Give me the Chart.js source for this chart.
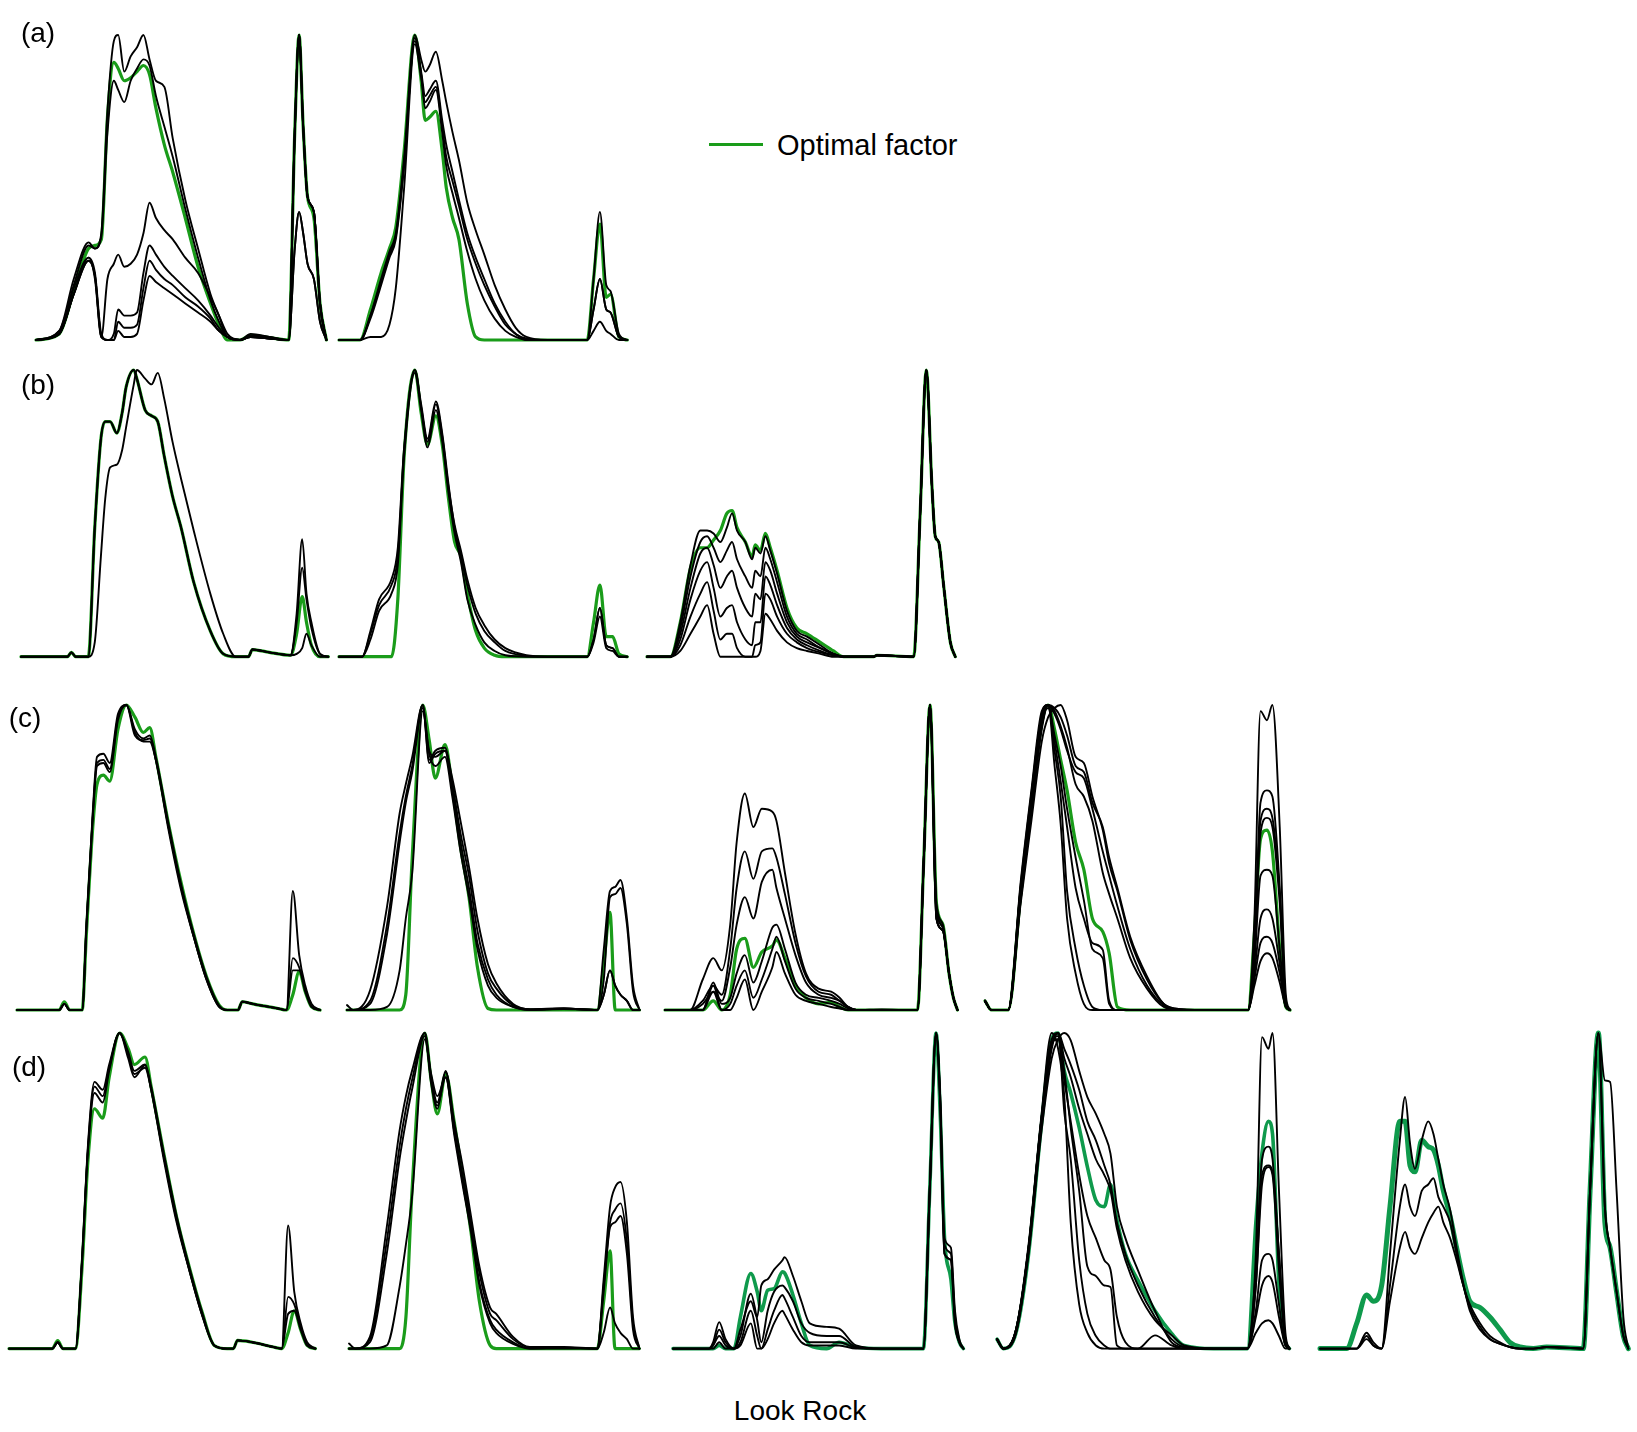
<!DOCTYPE html>
<html>
<head>
<meta charset="utf-8">
<script src="https://cdn.jsdelivr.net/npm/chart.js@4.4.1/dist/chart.umd.min.js"></script>
<style>
  html,body{margin:0;padding:0;background:#fff;}
  body{width:1637px;height:1432px;position:relative;overflow:hidden;font-family:"Liberation Sans",Arial,Helvetica,sans-serif;}
  canvas{position:absolute;}
  .lbl{position:absolute;transform:translate(-50%,-50%);font-size:28px;color:#000;white-space:nowrap;line-height:1;}
  .leg{position:absolute;font-size:29px;color:#000;white-space:nowrap;line-height:1;transform:translateY(-50%);}
  .legline{position:absolute;height:3px;background:#1a9c1a;}
</style>
</head>
<body>
<script>
// ---------- DATA (x = position within each factor profile, 0-100; y = normalised signal, % of max) ----------
// Row (a)
const a1X = [0,8,13,18.1,20.3,22.5,24.6,26.8,28.3,30.4,32.6,34.8,37,39.1,41.3,44.2,47.1,51.4,55.8,60.1,63,65.9,70.3,73.9,80.4,87,89.1,90.6,92,93.5,95.7,97.8,100];
const a1Optimal = [0,2,16,30,31,33,73,91,89,85,86,88,90,87,76,64,55,40,24,12,5,0,0,1.5,0.8,0,68,100,70,47,40,12,0];
const a1Runs = [
  [0,3,20,32,30,35,75,98,100,88,93,96,100,92,85,83,66,46,30,15,8,1,0,2,1,0,68,100,70,47,42,12,0],
  [0,2,18,31,30,34,68,85,82,78,85,89,92,90,80,70,60,43,27,13,6,1,0,1.5,1,0,68,100,70,47,42,12,0],
  [0,3,17,27,20,1,20,25,28,24,25,28,35,45,40,36,33,27,22,14,8,2,0,1,0.5,0,30,42,35,25,20,6,0],
  [0,2,15,27,22,2,0,2,10,8,8,9,22,31,28,24,21,17,13,8,4,1,0,1,0.5,0,30,42,35,25,20,6,0],
  [0,2,15,26,21,1,0,0,6,4,4,5,17,26,23,20,18,14,11,7,3,1,0,1,0.5,0,68,100,70,47,42,12,0],
  [0,2,15,26,21,1,0,0,3,1,1,2,13,21,19,17,15,12,9,6,3,1,0,1,0.5,0,68,100,70,47,42,12,0]
];
const a2X = [0,7.3,10.9,14.6,17.5,19.7,22.6,26.3,28.5,29.9,31.4,33.6,35.8,37.2,39.4,41.6,44.5,47.4,50.4,54,57.7,61.3,65,72.3,86.1,88.3,90.5,92.7,94.2,97.1,100];
const a2Optimal = [0,0,10,22,30,37,62,100,85,72,73,75,62,50,40,33,12,1,0,0,0,0,0,0,0,20,38,14,15,1,0];
const a2Runs = [
  [0,0,8,20,29,35,60,100,92,88,90,94.5,85,78,68,59,45,36,28,18,10,4,1,0,0,20,42,18,16,2,0],
  [0,0,8,19,28,34,58,98,88,80,82,85,72,64,55,46,35,27,20,12,6,2,0.5,0,0,10,20,10,9,1,0],
  [0,0,1,1,5,17,50,97,86,78,80,83,70,60,52,44,33,25,18,11,5,2,0,0,0,3,6,3,2,0,0],
  [0,0,7,18,27,33,57,99,87,76,78,82,68,57,48,40,29,20,13,7,3,1,0,0,0,10,20,10,9,1,0]
];
// Row (b)
const b1X = [0,15.1,16.4,17.8,21.9,24,26,27.4,29,31.2,32.9,34.2,36.7,37.7,40.4,42.5,44.5,46.6,49.3,52.1,56.2,61.6,65.8,69.9,74,75.3,80.8,87.7,89.7,91.5,92.9,94.5,97.3,100];
const b1Optimal = [0,0,1.5,0,0,45,76,82,82,78,85,94,100,97,86,84,82,70,56,45,26,9,1,0,0,2.5,1.5,0.5,8,21,12,4,0,0];
const b1Runs = [
  [0,0,1.5,0,0,5,35,55,66,67,72,80,95,100,97,95,99,90,75,62,44,22,8,0,0,2.5,1.5,0.5,1,3,8,4,0,0],
  [0,0,1.5,0,0,45,76,82,82,78,85,94,100,97,86,84,82,70,56,45,26,9,1,0,0,2.5,1.5,0.5,15,41,22,12,1,0],
  [0,0,1.5,0,0,45,76,82,82,78,85,94,100,97,86,84,82,70,56,45,26,9,1,0,0,2.5,1.5,0.5,12,31,20,10,1,0]
];
const b2X = [0,8,10.9,13.9,18.2,20.4,22.6,26.3,28.5,30.7,33.6,35.8,38,40.1,42.3,44.5,47.4,50.4,54,57.7,65,72.3,86.1,88.3,90.5,92.7,94.9,97.1,100];
const b2Optimal = [0,0,0,0,0,20,70,100,85,74,84,74,55,40,35,22,9,3,0.5,0,0,0,0,12,25,7,7,1,0];
const b2Runs = [
  [0,0,8,18,25,35,72,100,88,76,89,78,60,45,35,25,15,9,5,2,0.3,0,0,6,17,4,3,0,0],
  [0,0,6,16,22,32,70,99,86,73,86,75,57,43,33,20,11,5,2,0.5,0,0,0,5,14,3,2,0,0],
  [0,0,9,20,27,38,73,100,87,75,88,77,59,46,37,27,17,11,6,3,0.5,0,0,6,17,4,3,0,0]
];
const b3X = [0,7.6,10.8,14.1,17.3,19.5,21.6,23.8,25.9,27.6,29.2,31.9,34.1,35.1,36.8,38.4,40,42.2,45.4,48.6,51.9,56.2,60.5,63.8,73.5,74.6,86.5,88.6,90.6,92.4,93.5,94.6,96.2,98.4,100];
const b3Optimal = [0,0,12,31,38,38,40.7,44,50,51,45,40,35,39,37,43,38,30,17,10,8,5,2,0,0,0.5,0,50,100,60,42,40,25,5,0];
const b3Runs = [
  [0,0,12,32,44,44,43,40,45,50,44,40,34,38,36,42,37,29,16,9,7,4,1,0,0,0.5,0,50,100,60,42,40,25,5,0],
  [0,0,10,28,40,42,38,33,37,40,34,28,24,30,28,38,34,26,14,8,6,3,1,0,0,0.5,0,50,100,60,42,40,25,5,0],
  [0,0,8,24,36,38,32,24,28,30,24,17,14,22,20,33,30,22,12,7,5,3,1,0,0,0.5,0,50,100,60,42,40,25,5,0],
  [0,0,6,20,30,33,24,14,17,18,12,6,4,12,12,28,25,18,10,6,4,2,0.5,0,0,0.5,0,50,100,60,42,40,25,5,0],
  [0,0,4,14,22,26,16,6,8,8,3,0,0,4,5,22,20,14,8,5,3,1.5,0.5,0,0,0.5,0,50,100,60,42,40,25,5,0],
  [0,0,2,8,14,18,8,0,0,0,0,0,0,0,2,15,13,9,5,3,2,1,0,0,0,0.5,0,50,100,60,42,40,25,5,0]
];
// Row (c)
const c1X = [0,13.9,15.6,17.4,21.5,22.9,25,26.4,28.5,30.6,33.3,36.1,38.9,41.7,43.8,45.8,50,54.2,58.3,62.5,66.7,69.4,72.9,74.3,77.8,86.1,88.9,91,93.1,95.1,97.2,100];
const c1Optimal = [0,0,2.7,0,0,25,60,74,77,75,92,100,96,91,92.6,83,61,41.5,25,11,1.6,0,0,2.7,2,0.5,0,5,12.6,6,1,0];
const c1Runs = [
  [0,0,2,0,0,28,65,83,84,81,97,100,90,88.5,89,82,59,39,24,10,1,0,0,2.7,2,0.5,0,39,18,8,2,0],
  [0,0,2,0,0,27,64,81,82,79,96,100,91,88,88,82,60,40,24,10,1,0,0,2.7,2,0.5,0,17,14,7,1,0],
  [0,0,2,0,0,27,63,80,81,78,95,100,92,89,90,83,61,41,25,11,1.5,0,0,2.7,2,0.5,0,13,13,6,1,0]
];
const c2X = [0,2.2,7.9,13.7,18,20.1,22.3,25.9,28.1,30.2,33.5,36,38.8,41.7,44.6,48.2,51.1,56.8,62.6,74.1,85.6,87.8,89.9,91.7,93.5,95.7,97.8,100];
const c2Optimal = [0,0,0,0,0,5,50,100,88.5,76,87,73,53.6,37,14,0.5,0,0,0,0,0,15,32,0,0,0,0,0];
const c2Runs = [
  [1.6,0,6.5,34,64.5,74,83,100,81,84,85,76,62,47,30,15,8.7,2,0.3,0.5,0,20,39,40.4,42.6,30,8,0],
  [0,0,3,28,58,70,80,100,82,85,86,74,58,44,26,12,7,1.5,0.2,0.5,0,10,37,38,40,28,6,0],
  [0,0,0,1,13,30,45,98,84,80,83,70,52,37,20,8,4,1,0,0.5,0,5,13,8,5,3,0,0],
  [0,0,2,25,55,68,78,99,85,83,85,72,55,40,22,10,5,1,0,0.3,0,5,13,8,5,3,0,0]
];
const c3X = [0,8.6,12.9,16.5,19.4,22.3,24.5,27.3,30.2,33.1,36.7,38.1,41,44.6,48.2,52.5,56.8,59.7,62.6,65.5,74.1,81.3,86.3,88.5,90.6,92.8,95,97.1,98.6,100];
const c3Optimal = [0,0,0,3,0,5,20,23.5,14,19,21,23,17,8,4,2,2.5,1,0,0,0,0,0,50,100,35,28,12,4,0];
const c3Runs = [
  [0,0,10,17,13,28,55,71,60,66,65,62,45,25,12,7,6,4,1,0,0.2,0,0,50,100,35,28,12,4,0],
  [0,0,3,8,5,20,40,52,43,52,53,50,38,22,11,6,5,3,1,0,0,0,0,50,100,33,27,12,4,0],
  [0,0,2,6,3,14,28,37,30,42,46,40,30,18,9,5,4,3,1,0,0,0,0,50,100,33,27,12,4,0],
  [0,0,0,9,2,4,12,18,9,16,27,28,20,9,5,4,3,2,0.5,0,0,0,0,50,100,30,26,12,4,0],
  [0,0,0,8,0,2,8,13,4,10,20,24,16,7,4,3,2,1,0,0,0,0,0,50,100,30,26,12,4,0],
  [0,0,0,6,0,0,4,10,0,6,14,19,12,5,3,2,1,0.5,0,0,0,0,0,50,100,30,26,12,4,0]
];
const c4X = [0,2.1,7.6,11.7,15.2,18.6,20.7,22.8,24.8,26.9,29.7,32.4,35.2,38.6,40.7,43.4,47.6,53.1,58.6,64.1,75.2,86.2,88.3,90.3,92.4,94.2,96.6,98.6,100];
const c4Optimal = [3,0,0,38,68,94,100,92,82,72,55,46,30,25.7,18.6,1,0,0,0,0,0,0,25,56,59,52,20,1,0];
const c4Runs = [
  [3,0,0,35,62,88,96,99,100,95,83,81,70,59,48,39,23,10,2,0.3,0,0,30,98,95,100,60,5,0],
  [3,0,0,40,70,96,100,97,92,85,78,76,66,52,44,34,20,8,1.5,0,0,0,20,68,72,70,40,3,0],
  [3,0,0,42,72,98,100,80,61,30,12,2,0,0,0,0,0,0,0,0,0,0,15,44,46,44,20,2,0],
  [3,0,0,40,70,97,100,85,70,39,20,8,1,0,0,0,0,0,0,0,0,0,10,22,24,22,12,1,0],
  [3,0,0,39,69,95,99,88,75,60,40,30,22,19.7,3,0,0,0,0,0,0,0,8,16,18.6,17,9,1,0],
  [3,0,0,36,65,92,100,98,93,86,74,70,62,45,38,30,17,7,1,0,0,0,20,58,63,60,35,2,0],
  [3,0,0,37,66,93,100,99,96,90,80,78,68,60,50,40,24,11,2,0.3,0,0,22,62,66,63,38,3,0],
  [3,0,0,41,71,97,100,90,80,66,50,36,20,17,2,0,0,0,0,0,0,0,12,30,33,30,15,1,0]
];
// Row (d)
const d1X = [0,14.1,15.9,17.6,21.7,23.8,25.8,27.9,30.6,32.7,36.1,38.9,40.9,44.4,46.4,50.5,54.7,58.8,62.9,67,71.2,73.2,74.6,79.4,86.3,89,91.1,93.1,95.2,97.3,100];
const d1Optimal = [0,0,2.5,0,0,25,60,76,73,86,100,95,90,92.4,83,62,41.7,26,12,1,0,0,2.6,2,0.5,0,5,12,6,1,0];
const d1Runs = [
  [0,0,2,0,0,28,65,84.5,82,90,100,92,86,89.8,82,60,40,25,11,1,0,0,2.6,2,0.5,0,39,18,8,2,0],
  [0,0,2,0,0,27,64,83,80,89,100,93,87,89,82,61,41,25,11,1,0,0,2.6,2,0.5,0,16.4,14,7,1,0],
  [0,0,2,0,0,27,63,81,78,88,100,94,88,90,83,62,42,26,12,1,0,0,2.6,2,0.5,0,11,12,6,1,0]
];
const d2X = [0,2.2,7.2,13,17.4,19.6,21.7,26.1,28.3,30.4,33.3,36.2,39.1,42,44.9,48.6,50.7,56.5,62.3,73.9,85.5,87.7,89.9,91.6,93.5,95.7,97.8,100];
const d2Optimal = [0,0,0,0,0,10,50,100,85,74.4,87,72,55,37,15,1,0,0,0,0,0,15,31,0,0,0,0,0];
const d2Runs = [
  [1.6,0,3.7,38.5,69,80,88,100,84,76,87.6,72,58,42,26,13,11,3.7,0.5,0.5,0,22,45,51,52.8,40,10,0],
  [0,0,3,34,64,76,85,100,86,78,88,70,55,40,24,11,9,3,0.3,0.3,0,20,40,44,46,34,8,0],
  [0,0,0,1,19.5,33,48,98,87,80,86,68,52,37,20,8,5,1.5,0,0,0,18,38.5,40,42,30,6,0],
  [0,0,2,30,60,72,82,99,85,77,86,69,53,38,21,9,6,2,0,0.3,0,5,13,8,5,3,0,0]
];
const d3X = [0,12.3,13.8,15.9,18.1,21,23.2,26.8,29,30.4,32.6,34.8,37.7,38.4,41.3,44.2,47.1,52.9,57.2,63,71.7,86.2,88.4,90.6,92,93.5,95.7,97.1,98.6,100];
const d3Optimal = [0,0,0,1,0,0,10,23.8,18,12,18.5,19,24.3,24,17,8,1,0,2,0.5,0,0,50,100,75,35,22,8,2,0];
const d3Runs = [
  [0,0,2,8.4,3,0,6,15,10,20,22,25,28,29,23,15,8,6.9,6.3,1,0,0,50,100,80,35,32,12,3,0],
  [0,0,1,6,2,0,4,17.4,9,2,12,18,20,19.5,15,8,5,4,4,0.5,0,0,50,100,80,33,30,10,2,0],
  [0,0,1,4,1,0,2,12,4,0,6,12,17,16,10,4,2,2,2,0.3,0,0,50,100,78,30,28,8,2,0],
  [0,0,0,2,0,0,1,8,0,0,3,8,12,11,6,2,1,1,1,0,0,0,50,100,78,30,28,8,2,0]
];
const d4X = [0,2.2,6.5,10.8,15.1,18.7,20.9,23,25.2,28.1,30.9,33.8,36.7,38.8,41,43.9,48.2,54,59.7,64,74.1,85.6,88.5,90.6,92.8,94.2,96.4,98.6,100];
const d4Optimal = [3,0,5,30,70,98,100,88,81,70,57.6,47,45,52,40.7,30,21.6,12,4.8,1,0,0,40,62,72,68,20,2,0];
const d4Runs = [
  [3,0,5,30,68,92,98,100,97.7,88,79.7,74.4,68,61.8,45,35,24.8,12,2,0.5,0,0,30,98.7,95,100,50,5,0],
  [3,0,6,32,72,96,100,92,86,76,68,60,55,50,38,28,18,9,4.2,1,0,0,25,60,64,60,30,3,0],
  [3,0,6,33,73,100,95,80,40,14,5,1,0,0,0,0,0,4.2,1,0,0,0,20,52,57.5,55,25,2,0],
  [3,0,6,32,72,98,100,75,60,28,11,4,1,0,0,0,0,0,0,0,0,0,10,20,23,21,10,1,0],
  [3,0,5,31,70,96,99,88,70,50,26,23,20,19.5,1,0,0,0,0,0,0,0,5,8,9,8,4,0,0],
  [3,0,5,31,70,95,100,95,90,82,72,66,58,52,40,30,20,10,3,0.5,0,0,20,55,58,56,30,3,0],
  [3,0,6,32,72,97,98,85,72,55,42,35,28,25,10,2,0,0,0,0,0,0,12,28,30,28,14,1,0]
];
const d5X = [0,8.6,11.9,15.1,17.3,20,22.7,25.9,27.6,29.2,30.8,33,35.1,36.8,38.4,40,42.2,44.3,46.5,48.6,51.9,55.1,58.4,61.6,64.9,69.2,73.5,85.4,87.6,90.3,92.4,94.1,96.2,98.4,100];
const d5Optimal = [0,0,8,17,15,20,45,72,72,58,56,66,64,63,58,50,42,32,22,15,13,10,6,2,0.5,0,0.5,0,50,100,40,32,18,4,0];
const d5Runs = [
  [0,0,0,5,2,0,30,66,79.7,65,57,66,72,68,60,52,44,32,20.6,12,6,3,1.5,0.5,0,0,0.5,0,50,100,85,84.5,50,10,0],
  [0,0,0,4,1,0,20,45,52,45,42,50,52,54,48,45,40,30,20,13,7,3,1.5,0.5,0,0,0.5,0,50,100,45,32,18,4,0],
  [0,0,0,3,1,0,15,32,37,32,30,35,40,43,45,40,35,28,20,14,8,4,2,0.5,0,0,0.5,0,50,100,45,32,18,4,0]
];

const rowLabels = ['(a)','(b)','(c)','(d)'];
const legendLabel = 'Optimal factor';
const siteLabel = 'Look Rock';

// ---------- LAYOUT (page px: left, right, top(=100%), baseline(=0)) ----------
const LAYOUT = {
  a1:[35.8,326.2,35,340],   a2:[338.8,627.1,35,340],
  b1:[21,328.3,370,656.7],  b2:[338.8,627.1,370,656.7], b3:[646.7,955,370,656.7],
  c1:[16.8,319.9,705,1010], c2:[347.2,639.7,705,1010],  c3:[664.7,957.2,705,1010], c4:[984.6,1289.7,705,1010],
  d1:[9.3,315.7,1032.7,1348.3], d2:[349.3,639.7,1032.7,1348.3], d3:[673.1,963.5,1032.7,1348.3],
  d4:[997.2,1289.7,1032.7,1348.3], d5:[1320,1628.3,1032.7,1348.3]
};
const GREEN = '#1a9c1a', TEAL = '#0f9a4c';
const PANELS = [
  {id:'a1',x:a1X,opt:a1Optimal,runs:a1Runs,g:GREEN,gw:3.2},
  {id:'a2',x:a2X,opt:a2Optimal,runs:a2Runs,g:GREEN,gw:3.2},
  {id:'b1',x:b1X,opt:b1Optimal,runs:b1Runs,g:GREEN,gw:3.2},
  {id:'b2',x:b2X,opt:b2Optimal,runs:b2Runs,g:GREEN,gw:3.2},
  {id:'b3',x:b3X,opt:b3Optimal,runs:b3Runs,g:GREEN,gw:3.2},
  {id:'c1',x:c1X,opt:c1Optimal,runs:c1Runs,g:GREEN,gw:3.2},
  {id:'c2',x:c2X,opt:c2Optimal,runs:c2Runs,g:GREEN,gw:3.2},
  {id:'c3',x:c3X,opt:c3Optimal,runs:c3Runs,g:GREEN,gw:3.2},
  {id:'c4',x:c4X,opt:c4Optimal,runs:c4Runs,g:GREEN,gw:3.2},
  {id:'d1',x:d1X,opt:d1Optimal,runs:d1Runs,g:GREEN,gw:3.2},
  {id:'d2',x:d2X,opt:d2Optimal,runs:d2Runs,g:GREEN,gw:3.2},
  {id:'d3',x:d3X,opt:d3Optimal,runs:d3Runs,g:TEAL,gw:3.6},
  {id:'d4',x:d4X,opt:d4Optimal,runs:d4Runs,g:TEAL,gw:3.6},
  {id:'d5',x:d5X,opt:d5Optimal,runs:d5Runs,g:TEAL,gw:5}
];

function toPts(xs, ys){ return xs.map((x,i)=>({x:x, y:ys[i]})); }

PANELS.forEach(p=>{
  const [L,R,T,B] = LAYOUT[p.id];
  const pad = 6, w = R-L, h = B-T;
  const cv = document.createElement('canvas');
  const cw = Math.round(w+2*pad), ch = Math.round(h+2*pad);
  cv.width = cw; cv.height = ch;
  cv.style.left = (L-pad)+'px'; cv.style.top = (T-pad)+'px';
  cv.style.width = cw+'px'; cv.style.height = ch+'px';
  document.body.appendChild(cv);
  const xmin = -pad*100/w, xmax = xmin + cw*100/w;
  const ymax = 100 + pad*100/h, ymin = ymax - ch*100/h;
  const ds = p.runs.map(r=>({data:toPts(p.x,r), borderColor:'#000', borderWidth:1.9}));
  ds.push({data:toPts(p.x, p.opt), borderColor:p.g, borderWidth:p.gw});
  ds.forEach(d=>{ d.fill=false; d.pointRadius=0; d.cubicInterpolationMode='monotone'; d.clip=false; d.borderJoinStyle='round'; d.borderCapStyle='round'; });
  new Chart(cv, {
    type:'line',
    data:{datasets:ds},
    options:{
      responsive:false, animation:false, devicePixelRatio:1,
      layout:{padding:0},
      events:[],
      plugins:{legend:{display:false}, tooltip:{enabled:false}},
      scales:{
        x:{type:'linear', min:xmin, max:xmax, display:false},
        y:{type:'linear', min:ymin, max:ymax, display:false}
      }
    }
  });
});

// ---------- TEXT ----------
function addText(cls, txt, x, y){
  const d = document.createElement('div'); d.className = cls; d.textContent = txt;
  d.style.left = x+'px'; d.style.top = y+'px'; document.body.appendChild(d); return d;
}
const labelPos = [[38,33],[38,385],[25,718],[29,1067]];
rowLabels.forEach((t,i)=>addText('lbl', t, labelPos[i][0], labelPos[i][1]));
const ll = document.createElement('div'); ll.className='legline';
ll.style.left='709px'; ll.style.top='143px'; ll.style.width='54px'; document.body.appendChild(ll);
addText('leg', legendLabel, 777, 145);
addText('lbl', siteLabel, 800, 1411);
</script>
</body>
</html>
